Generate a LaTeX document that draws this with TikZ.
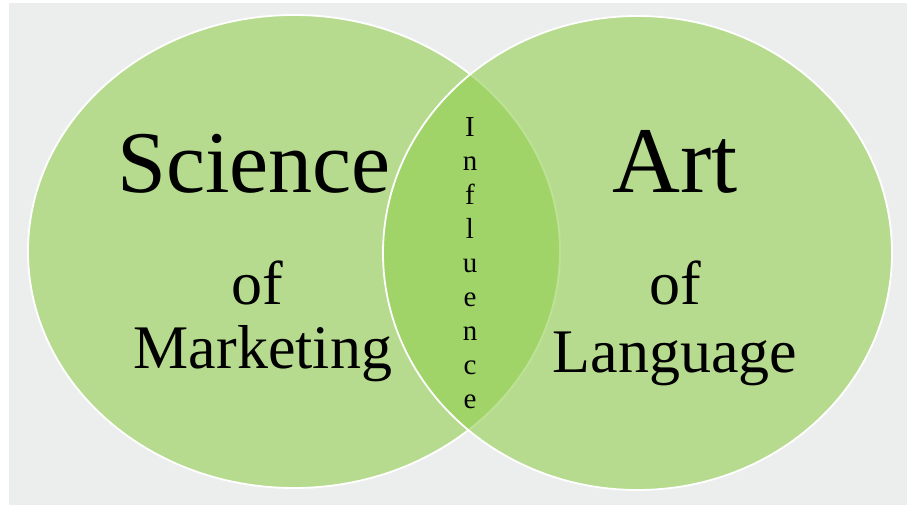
\documentclass[tikz,border=0pt]{standalone}
\usepackage{fontspec}
\setmainfont{Liberation Serif}
\definecolor{vgreen}{RGB}{146,208,80}
\definecolor{paper}{RGB}{236,237,237}
\tikzset{
  venn/.style={fill=vgreen, fill opacity=0.6, draw=white, line width=1.8pt},
  big/.style={font=\fontsize{88}{88}\selectfont, anchor=base},
  mid/.style={font=\fontsize{62}{62}\selectfont, anchor=base},
}

\begin{document}
\begin{tikzpicture}[x=1pt,y=-1pt]
	\useasboundingbox (0,0) rectangle (911,505);
	\fill [white] (0,0) rectangle (911,505);
	\fill [paper] (9,3) rectangle (907,505);
	\draw [venn] (294,251.5) ellipse [x radius=266, y radius=236.5];
	\draw [venn] (637.5,253) ellipse [x radius=254.5, y radius=237];
	\node [big] (science) at (254,193) {Science};
	\node [mid] (ofl) at (257,305) {of};
	\node [mid] (marketing) at (263,368) {Marketing};
	\node [big, font=\fontsize{94}{94}\selectfont] (art) at (675,193) {Art};
	\node [mid] (ofr) at (675,305) {of};
	\node [mid] (language) at (675,372) {Language};
	\node [font=\fontsize{29}{34}\selectfont, align=center, inner sep=0pt] (influence) at (470,263)
		{I\\n\\f\\l\\u\\e\\n\\c\\e};
\end{tikzpicture}
\end{document}
